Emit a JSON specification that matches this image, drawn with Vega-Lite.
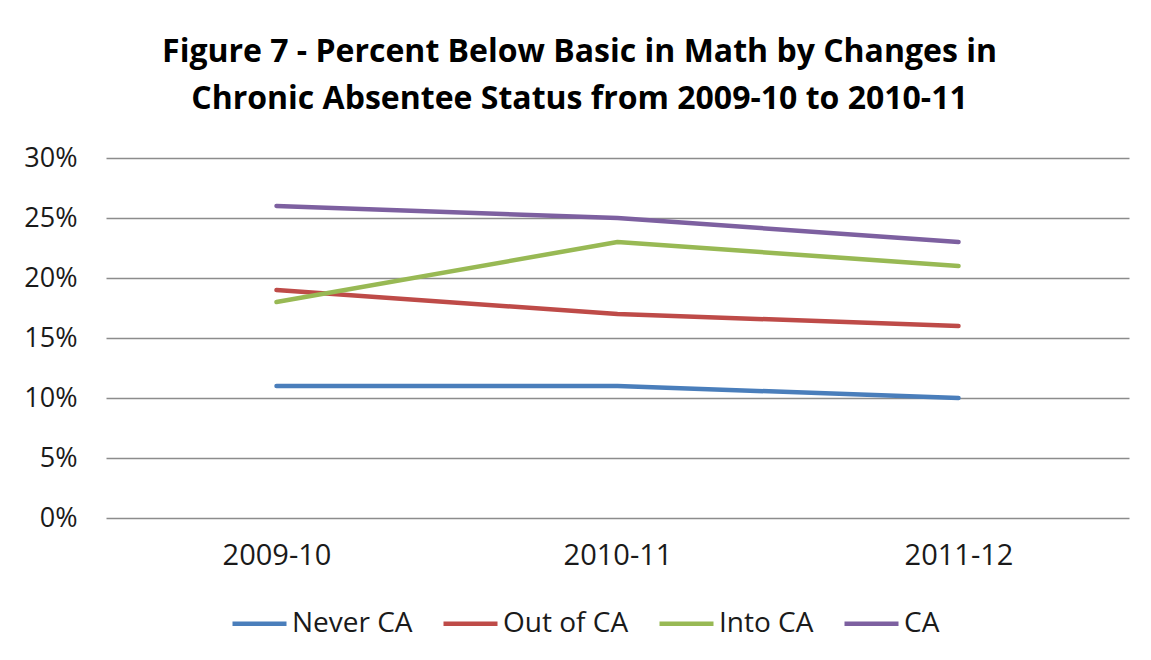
{
  "$schema": "https://vega.github.io/schema/vega-lite/v6.json",
  "width": 1023,
  "height": 360,
  "autosize": {"type": "none"},
  "padding": {"left": 106, "top": 158, "right": 22, "bottom": 142},
  "background": "white",
  "title": {
    "text": ["Figure 7 - Percent Below Basic in Math by Changes in", "Chronic Absentee  Status from 2009-10 to 2010-11"],
    "font": "Open Sans",
    "fontSize": 32,
    "fontWeight": "bold",
    "color": "#000000",
    "anchor": "middle",
    "dx": -38,
    "offset": 28,
    "lineHeight": 47
  },
  "data": {
    "values": [
      {"year": "2009-10", "group": "Never CA", "pct": 0.11},
      {"year": "2010-11", "group": "Never CA", "pct": 0.11},
      {"year": "2011-12", "group": "Never CA", "pct": 0.10},
      {"year": "2009-10", "group": "Out of CA", "pct": 0.19},
      {"year": "2010-11", "group": "Out of CA", "pct": 0.17},
      {"year": "2011-12", "group": "Out of CA", "pct": 0.16},
      {"year": "2009-10", "group": "Into CA", "pct": 0.18},
      {"year": "2010-11", "group": "Into CA", "pct": 0.23},
      {"year": "2011-12", "group": "Into CA", "pct": 0.21},
      {"year": "2009-10", "group": "CA", "pct": 0.26},
      {"year": "2010-11", "group": "CA", "pct": 0.25},
      {"year": "2011-12", "group": "CA", "pct": 0.23}
    ]
  },
  "mark": {"type": "line", "strokeWidth": 4.5, "strokeCap": "round", "strokeJoin": "round"},
  "encoding": {
    "x": {
      "field": "year",
      "type": "ordinal",
      "scale": {"type": "point", "padding": 0.5},
      "axis": {
        "title": null,
        "labelAngle": 0,
        "labelFont": "Open Sans",
        "labelFontSize": 29,
        "labelColor": "#1a1a1a",
        "labelPadding": 23,
        "ticks": false,
        "domain": false,
        "grid": false
      }
    },
    "y": {
      "field": "pct",
      "type": "quantitative",
      "scale": {"domain": [0, 0.3], "nice": false},
      "axis": {
        "title": null,
        "values": [0, 0.05, 0.1, 0.15, 0.2, 0.25, 0.3],
        "format": ".0%",
        "labelFont": "Open Sans",
        "labelFontSize": 27,
        "labelColor": "#1a1a1a",
        "labelPadding": 29,
        "ticks": false,
        "domain": false,
        "grid": true,
        "gridColor": "#8c8c8c",
        "gridWidth": 1.3
      }
    },
    "color": {
      "field": "group",
      "type": "nominal",
      "sort": ["Never CA", "Out of CA", "Into CA", "CA"],
      "scale": {
        "domain": ["Never CA", "Out of CA", "Into CA", "CA"],
        "range": ["#4A7EBB", "#BE4B48", "#98B954", "#7D60A0"]
      },
      "legend": {
        "title": null,
        "orient": "none",
        "direction": "horizontal",
        "legendX": 124,
        "legendY": 436,
        "symbolType": "stroke",
        "symbolSize": 2916,
        "symbolStrokeWidth": 4.5,
        "labelFont": "Open Sans",
        "labelFontSize": 28,
        "labelColor": "#1a1a1a",
        "labelOffset": 3,
        "columnPadding": 21
      }
    }
  },
  "config": {
    "view": {"stroke": null}
  }
}
